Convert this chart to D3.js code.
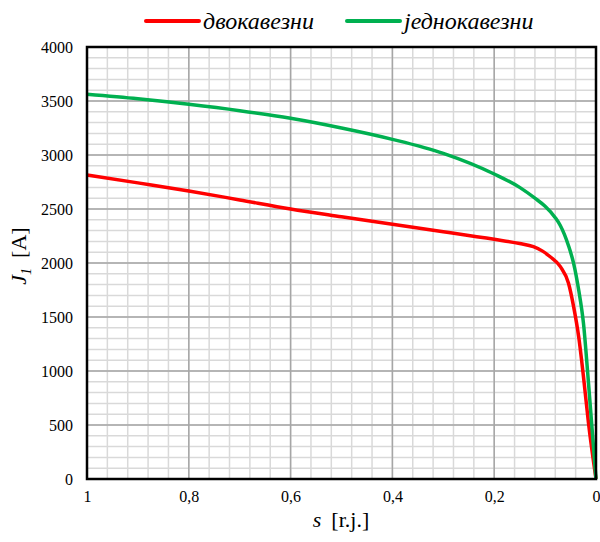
<!DOCTYPE html>
<html>
<head>
<meta charset="utf-8">
<script src="https://cdn.jsdelivr.net/npm/d3@7"></script>
<style>
  body { margin: 0; background: #fff; }
  svg text { font-family: "Liberation Serif", "Times New Roman", serif; }
</style>
</head>
<body>
<div id="chart"></div>
<script>
// slip s [r.j.] and stator current J1 [A]
const sDvo = [1, 0.9, 0.8, 0.7, 0.6, 0.5, 0.4, 0.3, 0.2, 0.15, 0.123, 0.105, 0.09, 0.07, 0.054, 0.044, 0.034, 0.0246, 0.0147, 0];
const jDvo = [2815, 2742, 2667, 2584, 2500, 2428, 2358, 2290, 2219, 2180, 2151, 2110, 2058, 1966, 1812, 1596, 1317, 947, 516, 0];

const sJedno = [1, 0.9, 0.8, 0.7, 0.6, 0.5, 0.4, 0.3, 0.2, 0.15, 0.12, 0.1, 0.08, 0.0704, 0.054, 0.044, 0.034, 0.0246, 0.0147, 0];
const jJedno = [3562, 3520, 3469, 3410, 3340, 3250, 3145, 3015, 2824, 2700, 2600, 2525, 2420, 2350, 2160, 1997, 1750, 1441, 886, 0];

const xTicks = [1, 0.8, 0.6, 0.4, 0.2, 0];
const yTicks = [0, 500, 1000, 1500, 2000, 2500, 3000, 3500, 4000];

const legendNames = ["двокавезни", "једнокавезни"];
const colors = ["#ff0000", "#00b050"];

const margin = {top: 47, right: 4, bottom: 63, left: 87};
const width = 600 - margin.left - margin.right;
const height = 542 - margin.top - margin.bottom;

const svg = d3.select("#chart")
    .append("svg")
    .attr("width", 600)
    .attr("height", 542);

const g = svg.append("g")
    .attr("transform", `translate(${margin.left}, ${margin.top})`);

const x = d3.scaleLinear().domain([1, 0]).range([0, width]);
const y = d3.scaleLinear().domain([0, 4000]).range([height, 0]);

// minor grid
const minorX = d3.range(0, 1.0001, 0.04);
const minorY = d3.range(0, 4001, 100);
g.append("g").selectAll("line")
    .data(minorX)
    .join("line")
    .attr("x1", d => x(d)).attr("x2", d => x(d))
    .attr("y1", 0).attr("y2", height)
    .attr("stroke", "#d9d9d9").attr("stroke-width", 1.5);
g.append("g").selectAll("line")
    .data(minorY)
    .join("line")
    .attr("y1", d => y(d)).attr("y2", d => y(d))
    .attr("x1", 0).attr("x2", width)
    .attr("stroke", "#d9d9d9").attr("stroke-width", 1.5);

// major grid
g.append("g").selectAll("line")
    .data(xTicks)
    .join("line")
    .attr("x1", d => x(d)).attr("x2", d => x(d))
    .attr("y1", 0).attr("y2", height)
    .attr("stroke", "#a6a6a6").attr("stroke-width", 1.5);
g.append("g").selectAll("line")
    .data(yTicks)
    .join("line")
    .attr("y1", d => y(d)).attr("y2", d => y(d))
    .attr("x1", 0).attr("x2", width)
    .attr("stroke", "#a6a6a6").attr("stroke-width", 1.5);

// curves
const line = d3.line()
    .x(d => x(d[0]))
    .y(d => y(d[1]))
    .curve(d3.curveMonotoneX);

const series = [
    d3.zip(sDvo, jDvo),
    d3.zip(sJedno, jJedno)
];

g.append("g").selectAll("path")
    .data(series)
    .join("path")
    .attr("d", line)
    .attr("fill", "none")
    .attr("stroke", (d, i) => colors[i])
    .attr("stroke-width", 3.5)
    .attr("stroke-linejoin", "round");

// plot border
g.append("rect")
    .attr("width", width).attr("height", height)
    .attr("fill", "none")
    .attr("stroke", "#000").attr("stroke-width", 2.5);

// axes
const xAxis = g.append("g")
    .attr("transform", `translate(0, ${height})`)
    .call(d3.axisBottom(x).tickValues(xTicks).tickSize(0).tickPadding(12)
        .tickFormat(d => String(d).replace(".", ",")));
const yAxis = g.append("g")
    .call(d3.axisLeft(y).tickValues(yTicks).tickSize(0).tickPadding(14)
        .tickFormat(d => String(d)));
[xAxis, yAxis].forEach(a => {
    a.attr("font-family", null).attr("font-size", null);
    a.select(".domain").remove();
    a.selectAll("text")
        .attr("font-size", 16)
        .attr("fill", "#000");
});

// axis titles
const xTitle = svg.append("text")
    .attr("x", 341).attr("y", 527)
    .attr("text-anchor", "middle")
    .attr("font-size", 22);
xTitle.append("tspan").attr("font-style", "italic").text("s");
xTitle.append("tspan").attr("dx", 10).text("[r.j.]");

const yTitle = svg.append("text")
    .attr("transform", "translate(26, 256) rotate(-90)")
    .attr("text-anchor", "middle")
    .attr("font-size", 22);
yTitle.append("tspan").attr("font-style", "italic").text("J");
yTitle.append("tspan").attr("font-style", "italic").attr("font-size", 14).attr("dy", 5).text("1");
yTitle.append("tspan").attr("dy", -5).attr("dx", 10).text("[A]");

// legend
const legendX = [146, 347];
const legend = svg.append("g").selectAll("g")
    .data(legendNames)
    .join("g")
    .attr("transform", (d, i) => `translate(${legendX[i]}, 21)`);
legend.append("line")
    .attr("x1", 0).attr("x2", 53)
    .attr("stroke", (d, i) => colors[i])
    .attr("stroke-width", 4)
    .attr("stroke-linecap", "round");
legend.append("text")
    .attr("x", 57).attr("y", 8)
    .attr("font-size", 24)
    .attr("font-style", "italic")
    .text(d => d);
</script>
</body>
</html>
